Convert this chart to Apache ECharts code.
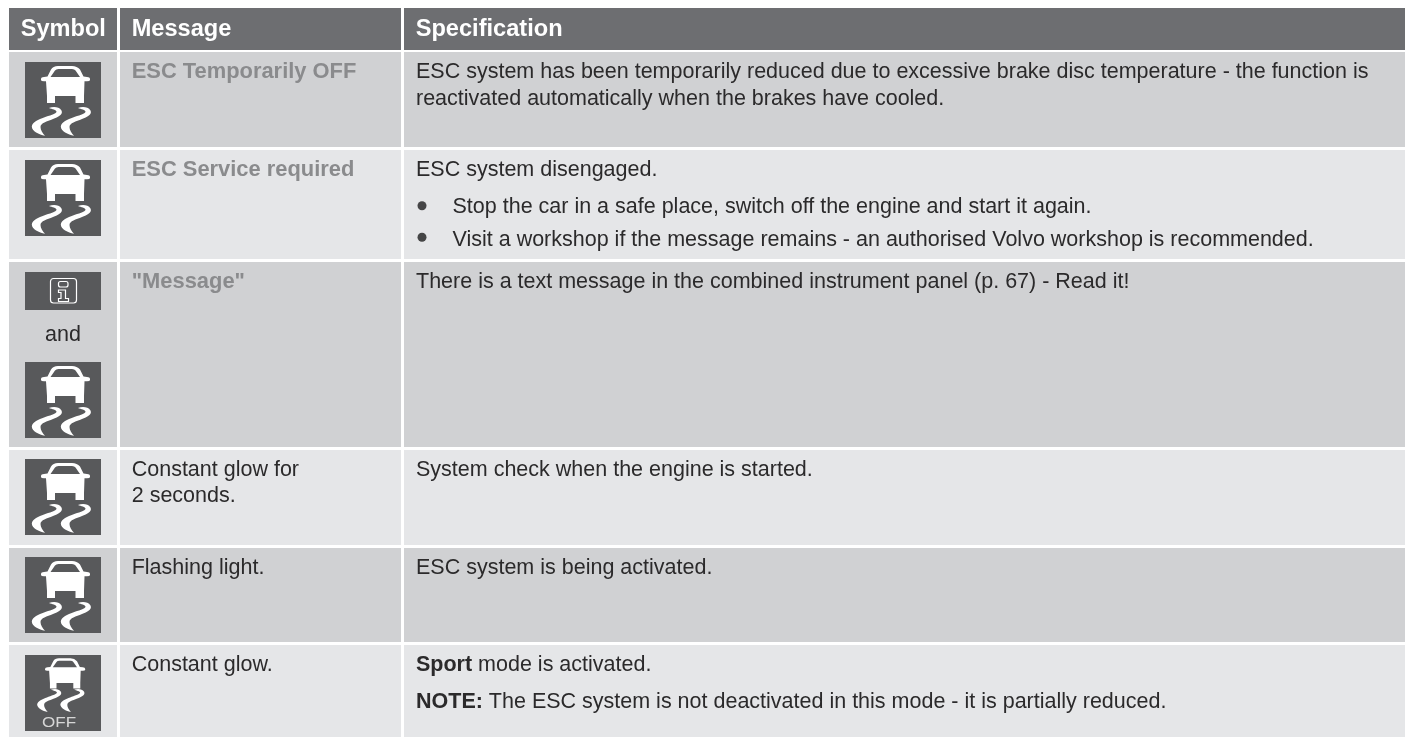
<!DOCTYPE html>
<html>
<head>
<meta charset="utf-8">
<title>ESC symbols</title>
<style>
  html, body { margin: 0; padding: 0; background: #fff; }
  #chart { width: 1405px; height: 737px; }
</style>
<script src="https://cdn.jsdelivr.net/npm/echarts@6/dist/echarts.min.js"></script>
</head>
<body>
<div id="chart"></div>
<script>
var headers = ['Symbol', 'Message', 'Specification'];
var columnLeft = [9, 120, 404];
var columnRight = [117, 401, 1405];
var rowTop = [8, 52, 150, 262, 450, 548, 645];
var rowBottom = [50, 147, 259, 447, 545, 642, 737];

// one entry per body row
var messages = [
  ['ESC Temporarily OFF'],
  ['ESC Service required'],
  ['"Message"'],
  ['Constant glow for', '2 seconds.'],
  ['Flashing light.'],
  ['Constant glow.']
];
var messageMuted = [true, true, true, false, false, false];
var specifications = [
  ['ESC system has been temporarily reduced due to excessive brake disc temperature - the function is', 'reactivated automatically when the brakes have cooled.'],
  ['ESC system disengaged.'],
  ['There is a text message in the combined instrument panel (p. 67) - Read it!'],
  ['System check when the engine is started.'],
  ['ESC system is being activated.'],
  ['{b|Sport} mode is activated.']
];
var specBullets = { 1: ['Stop the car in a safe place, switch off the engine and start it again.', 'Visit a workshop if the message remains - an authorised Volvo workshop is recommended.'] };
var specNotes = { 5: '{b|NOTE:} The ESC system is not deactivated in this mode - it is partially reduced.' };

var carPath = 'M16,17 Q16,15.2 19,15 L22.5,14.5 L26,7.5 Q28,4 33,4 L47,4 Q52,4 55,7.5 L58.5,14.5 L62,15 Q65,15.2 65,17 L65,18 Q65,19.2 62,19.2 L59.5,19.2 L59,34 L59,41 L50.5,41 L50.5,34 L30,34 L30,41 L22,41 L22,34 L21,19.2 L19,19.2 Q16,19.2 16,18 Z';
var windowPath = 'M25.5,15 L30,8.5 Q31,7 33.5,7 L47,7 Q49.5,7 50.5,8.5 L55,15 Z';
var roadPath = 'M24,46 C28,44.5 34,44.5 36.5,48.5 C38.5,52.5 33,55 28,57 C22,59.5 15.5,61 15.5,65 C15.5,68 17.5,71 20,73.8 C14,72.8 6.8,69 6.8,64.5 C7,60 14,57.5 19,55.5 C24,53.5 31.5,52 31.5,49.5 C31.5,48 27,47 24,46 Z';

var ink = '#2b2a2b';
var muted = '#8a8b8d';
var headerFill = '#6d6e71';
var darkFill = '#d0d1d3';
var lightFill = '#e5e6e8';
var iconFill = '#58595b';
var fontFamily = '"Liberation Sans", Arial, sans-serif';

// cells: [column, row]
var cellData = [];
rowTop.forEach(function(t, r) {
  columnLeft.forEach(function(l, c) { cellData.push([c, r]); });
});

function renderCell(params, api) {
  var c = api.value(0), r = api.value(1);
  var p0 = api.coord([columnLeft[c], rowTop[r]]);
  var p1 = api.coord([columnRight[c], rowBottom[r]]);
  var fill = r === 0 ? headerFill : (r % 2 === 1 ? darkFill : lightFill);
  return { type: 'rect', shape: { x: p0[0], y: p0[1], width: p1[0] - p0[0], height: p1[1] - p0[1] }, style: { fill: fill } };
}

// text lines, placed from the row they belong to
var textItems = [];
function addText(text, x, y, size, weight, color) {
  textItems.push({ text: text, x: x, y: y, size: size, weight: weight, color: color });
}
var bodySize = 21.5, mutedSize = 21.9, headerSize = 23.6;
headers.forEach(function(h, c) {
  addText(h, columnLeft[c] + 11.7, rowTop[0] + 29, headerSize, 'bold', '#ffffff');
});
messages.forEach(function(lines, i) {
  var r = i + 1;
  lines.forEach(function(line, k) {
    if (messageMuted[i]) addText(line, columnLeft[1] + 11.7, rowTop[r] + 27, mutedSize, 'bold', muted);
    else addText(line, columnLeft[1] + 11.7, rowTop[r] + 27 + k * 26, bodySize, 'normal', ink);
  });
});
var bulletData = [];
specifications.forEach(function(lines, i) {
  var r = i + 1;
  lines.forEach(function(line, k) {
    addText(line, columnLeft[2] + 12, rowTop[r] + 27 + k * 26.3, bodySize, 'normal', ink);
  });
  (specBullets[i] || []).forEach(function(line, k) {
    addText(line, columnLeft[2] + 48.5, rowTop[r] + 63.3 + k * 33.4, bodySize, 'normal', ink);
    bulletData.push([columnLeft[2] + 18, rowTop[r] + 55.7 + k * 31.6]);
  });
  if (specNotes[i]) addText(specNotes[i], columnLeft[2] + 12, rowTop[r] + 64, bodySize, 'normal', ink);
});
addText('and', 45, 341.5, bodySize, 'normal', ink);

function renderText(params, api) {
  var it = textItems[params.dataIndex];
  var p = api.coord([it.x, it.y]);
  return {
    type: 'text',
    x: p[0],
    y: p[1] - it.size * 0.31,
    style: {
      text: it.text,
      fill: it.color,
      font: it.weight + ' ' + it.size + 'px ' + fontFamily,
      align: 'left',
      verticalAlign: 'middle',
      rich: { b: { fontWeight: 'bold', fontSize: it.size, fontFamily: fontFamily, fill: it.color } }
    }
  };
}

// icons: top-left corner [x, y], kind in iconKinds
var iconX = [25, 25, 25, 25, 25, 25, 25];
var iconY = [62, 160, 272, 362, 459, 557, 655];
var iconKinds = ['car', 'car', 'info', 'car', 'car', 'car', 'off'];

function carChildren(carX, carY, carS, roadX, roadY, roadS) {
  var white = { fill: '#fff' };
  return [
    { type: 'group', x: carX, y: carY, scaleX: carS, scaleY: carS, children: [
      { type: 'path', shape: { pathData: carPath }, style: white },
      { type: 'path', shape: { pathData: windowPath }, style: { fill: iconFill } }
    ] },
    { type: 'group', x: roadX, y: roadY, scaleX: roadS, scaleY: roadS, children: [
      { type: 'path', shape: { pathData: roadPath }, style: white },
      { type: 'group', x: 29, children: [{ type: 'path', shape: { pathData: roadPath }, style: white }] }
    ] }
  ];
}

function renderIcon(params, api) {
  var p = api.coord([api.value(0), api.value(1)]);
  var kind = iconKinds[params.dataIndex];
  var h = kind === 'info' ? 38 : 76;
  var children = [{ type: 'rect', shape: { x: 0, y: 0, width: 76, height: h }, style: { fill: iconFill } }];
  if (kind === 'car') children = children.concat(carChildren(0, 0, 1, 0, 0, 1));
  if (kind === 'off') {
    children = children.concat(carChildren(6.9, 0, 0.82, 6.7, -2, 0.8));
    children.push({ type: 'text', x: 34, y: 67.5, scaleX: 1.1, style: { text: 'OFF', fill: '#d6d6d6', font: '15.5px ' + fontFamily, align: 'center', verticalAlign: 'middle' } });
  }
  if (kind === 'info') {
    var line = { fill: 'none', stroke: '#fff', lineWidth: 1.2 };
    children.push({ type: 'rect', shape: { x: 25.5, y: 6.5, width: 26, height: 24.5, r: 3 }, style: line });
    children.push({ type: 'rect', shape: { x: 33.5, y: 9.5, width: 9.5, height: 5.5, r: 2 }, style: line });
    children.push({ type: 'path', shape: { pathData: 'M33.5,18 L40.5,18 L40.5,26.5 L43.5,26.5 L43.5,29.5 L33.5,29.5 L33.5,26.5 L36,26.5 L36,20.5 L33.5,20.5 Z' }, style: line });
  }
  return { type: 'group', x: p[0], y: p[1], children: children };
}

var chart = echarts.init(document.getElementById('chart'));
chart.setOption({
  animation: false,
  backgroundColor: '#ffffff',
  grid: { left: 0, right: 0, top: 0, bottom: 0 },
  xAxis: { type: 'value', min: 0, max: 1405, show: false },
  yAxis: { type: 'value', min: 0, max: 737, inverse: true, show: false },
  series: [
    { type: 'custom', coordinateSystem: 'cartesian2d', silent: true, renderItem: renderCell, data: cellData, z: 1, clip: false },
    { type: 'custom', coordinateSystem: 'cartesian2d', silent: true, renderItem: renderIcon, data: iconX.map(function(x, i) { return [x, iconY[i]]; }), z: 2, clip: false },
    { type: 'scatter', silent: true, symbol: 'circle', symbolSize: 9, itemStyle: { color: '#1d1d1d' }, data: bulletData, z: 3, clip: false },
    { type: 'custom', coordinateSystem: 'cartesian2d', silent: true, renderItem: renderText, data: textItems.map(function(t) { return [t.x, t.y]; }), z: 4, clip: false }
  ]
});
window.addEventListener('resize', function() { chart.resize(); });
</script>
</body>
</html>
